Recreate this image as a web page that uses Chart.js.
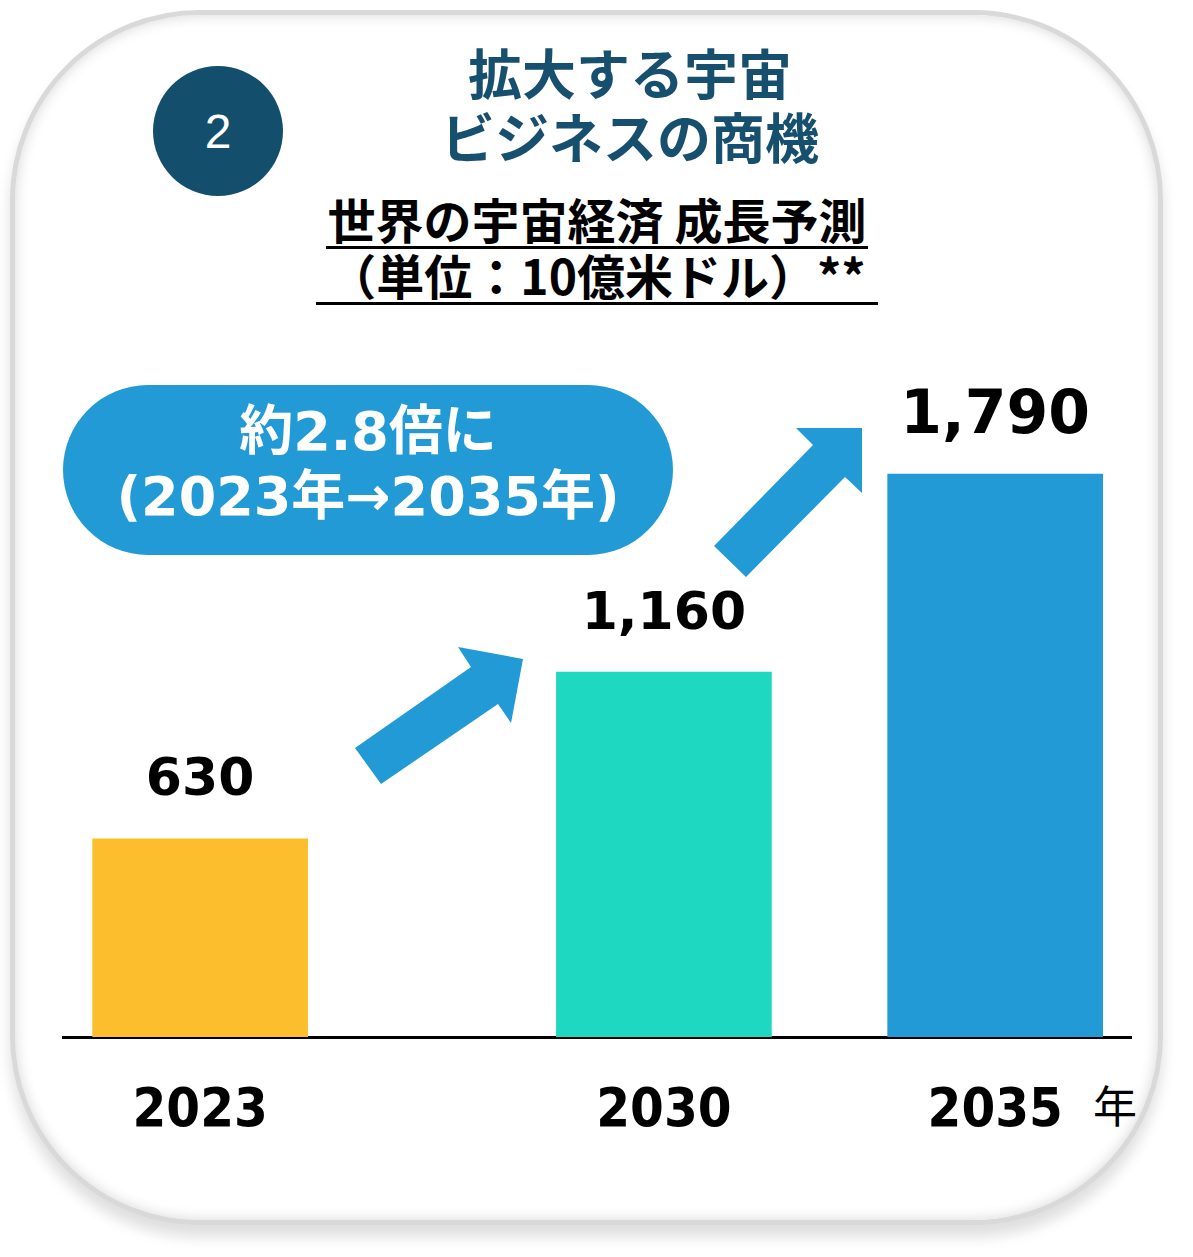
<!DOCTYPE html>
<html>
<head>
<meta charset="utf-8">
<script src="https://cdn.jsdelivr.net/npm/chart.js@4/dist/chart.umd.min.js"></script>
<style>
  body { margin: 0; background: #fff; width: 1193px; height: 1257px; overflow: hidden; position: relative; }
  .card {
    position: absolute; left: 10px; top: 10px; width: 1143px; height: 1205px;
    border: 5px solid #d9d9d9; border-radius: 190px; background: #fff;
    box-shadow: inset 0 0 14px rgba(0,0,0,0.16), 0 12px 14px rgba(0,0,0,0.13);
  }
  .badge {
    position: absolute; left: 153px; top: 66px; width: 130px; height: 130px; border-radius: 50%;
    background: #134f6c; color: #fff; font: 48px "Liberation Sans", Arial, sans-serif;
    display: flex; align-items: center; justify-content: center;
  }
  .title {
    position: absolute; left: 380px; width: 500px; text-align: center; color: #17506e;
    font: bold 54px "Noto Sans CJK JP", sans-serif; line-height: 64px;
  }
  .sub {
    position: absolute; text-align: center; color: #000; font: bold 48px "Noto Sans CJK JP", sans-serif;
    line-height: 56px; border-bottom: 3px solid #000; white-space: nowrap;
  }
  .bubble {
    position: absolute; left: 63px; top: 385px; width: 610px; height: 170px; border-radius: 85px;
    background: #229ad6;
  }
  .btext {
    position: absolute; left: 63px; width: 610px; text-align: center; color: #fff;
    font: bold 54px "DejaVu Sans", "Noto Sans CJK JP", sans-serif; line-height: 60px; white-space: nowrap;
  }
  .unit { position: absolute; left: 1093px; top: 1072px; font: 44px "Noto Sans CJK JP", sans-serif; color: #000; }
  canvas { position: absolute; left: 0; top: 0; }
  svg { position: absolute; left: 0; top: 0; }
</style>
</head>
<body>
<div class="card"></div>
<div class="badge">2</div>
<div class="title" style="top:40px">拡大する宇宙</div>
<div class="title" style="top:104px">ビジネスの商機</div>
<div class="sub" style="left:326px; top:190px; width:542px;">世界の宇宙経済 成長予測</div>
<div class="sub" style="left:316px; top:246px; width:562px;">（単位：10億米ドル）**</div>
<div class="bubble"></div>
<div class="btext" style="top:402px">約2.8倍に</div>
<div class="btext" style="top:467px">(2023年→2035年)</div>
<div class="unit">年</div>
<canvas id="chart" width="1193" height="1257"></canvas>
<svg width="1193" height="1257">
  <polygon fill="#229ad6" points="355,748 471,667 458,647 523,659 511,723 498,704 381,784"/>
  <polygon fill="#229ad6" points="714,546 813,445 796,428 862,428 862,493 845,477 746,577"/>
</svg>
<script>
// chart values
const years = [2023, 2030, 2035];
const yearLabels = ['2023', '2030', '2035'];
const values = [630, 1160, 1790];
const barColors = ['#fcbe2c', '#1ed8c2', '#229ad6'];
const labelSizes = [52, 52, 60];

// value labels above each bar
const valueLabels = {
    id: 'valueLabels',
    afterDatasetsDraw(chart) {
        const ctx = chart.ctx;
        const meta = chart.getDatasetMeta(0);
        ctx.save();
        ctx.fillStyle = '#000';
        ctx.textAlign = 'center';
        ctx.textBaseline = 'middle';
        meta.data.forEach((bar, i) => {
            ctx.font = 'bold ' + labelSizes[i] + 'px "DejaVu Sans", sans-serif';
            ctx.fillText(values[i].toLocaleString('en-US'), bar.x, bar.y - 57);
        });
        ctx.restore();
    }
};

new Chart(document.getElementById('chart'), {
    type: 'bar',
    data: {
        datasets: [{
            data: years.map((x, i) => ({ x: x, y: values[i] })),
            backgroundColor: barColors,
            barThickness: 215,
            borderWidth: 0
        }]
    },
    options: {
        responsive: false,
        animation: false,
        layout: { padding: { left: 63, right: 62, top: 408, bottom: 78 } },
        scales: {
            x: {
                type: 'linear',
                min: 2020.93,
                max: 2037.05,
                offset: false,
                z: 1,
                grid: { display: false },
                border: { display: true, color: '#000', width: 3 },
                afterBuildTicks: axis => { axis.ticks = years.map(v => ({ value: v })); },
                ticks: {
                    padding: 40,
                    color: '#000',
                    font: { family: '"DejaVu Sans Condensed", "Liberation Sans", sans-serif', size: 54, weight: 'bold', lineHeight: 1 },
                    callback: (v) => yearLabels[years.indexOf(v)]
                }
            },
            y: { display: false, min: 0, max: 2000 }
        },
        plugins: { legend: { display: false }, tooltip: { enabled: false } }
    },
    plugins: [valueLabels]
});
</script>
</body>
</html>
